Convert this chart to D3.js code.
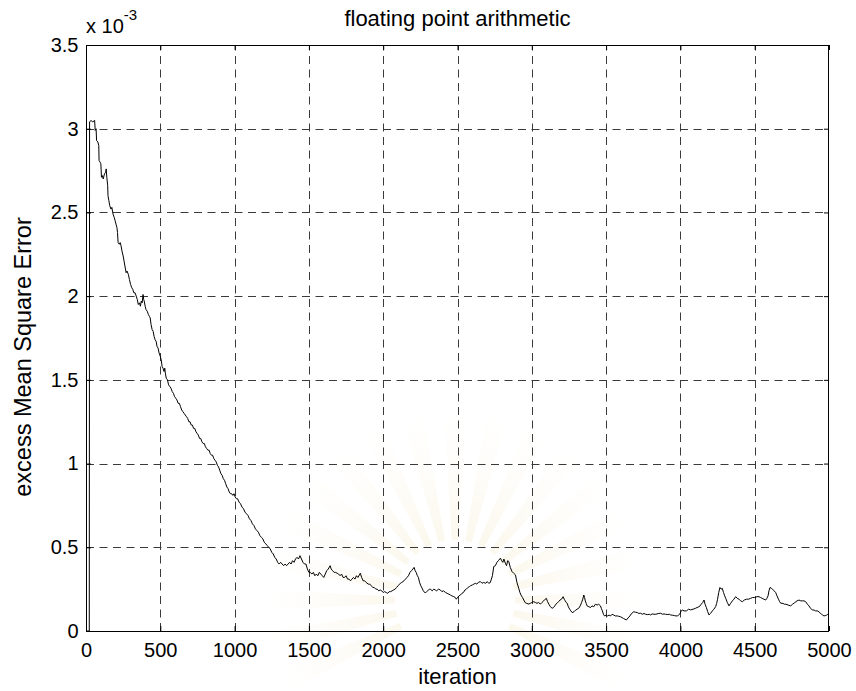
<!DOCTYPE html>
<html>
<head>
<meta charset="utf-8">
<script src="https://cdn.jsdelivr.net/npm/d3@7"></script>
<style>
  html, body { margin: 0; padding: 0; background: #fff; }
  svg { display: block; }
  text { font-family: "Liberation Sans", Arial, Helvetica, sans-serif; fill: #000; }
</style>
</head>
<body>
<svg id="chart" width="856" height="691"></svg>
<script>
// Excess MSE (in units of 1e-3) against iteration number
const iterations = [
  0, 22, 24, 34, 45, 58, 62, 68, 71, 80, 86, 88, 95, 100, 104, 110, 116, 124, 132, 136,
  140, 146, 148, 154, 160, 168, 174, 182, 190, 196, 202, 208, 212, 216, 224, 230, 236, 242, 250, 256,
  262, 270, 276, 285, 292, 300, 308, 315, 322, 330, 338, 345, 352, 360, 366, 372, 378, 384, 388, 392,
  398, 404, 412, 420, 426, 432, 438, 445, 452, 458, 465, 472, 478, 485, 492, 500,
  506, 512, 518, 525, 530, 534, 540, 548, 556, 564, 572, 580, 588, 596, 604, 612, 620, 628, 636, 644,
  652, 660, 668, 676, 684, 692, 700, 708, 716, 724, 732, 740, 748, 756, 764, 772, 780, 788, 796, 804,
  812, 820, 828, 836, 844, 852, 860, 868, 876, 884, 892, 900, 908, 916, 924, 932, 940, 948, 956, 964,
  972, 980, 988, 996, 1004,
  1012, 1020, 1030, 1040, 1050, 1060, 1070, 1080, 1090, 1100, 1110, 1120, 1130, 1140, 1150, 1160, 1170, 1180, 1190, 1200,
  1210, 1220, 1230, 1240, 1250, 1260, 1270, 1280, 1290, 1300, 1310, 1320, 1330, 1340, 1350, 1360, 1370, 1380, 1390, 1400,
  1410, 1420, 1430, 1440, 1450, 1460, 1470, 1480, 1490, 1500,
  1510, 1520, 1530, 1540, 1550, 1560, 1570, 1580, 1590, 1600, 1610, 1620, 1630, 1643, 1650, 1660, 1670, 1680, 1690, 1700,
  1710, 1720, 1730, 1740, 1750, 1760, 1770, 1780, 1790, 1800, 1810, 1820, 1830, 1846, 1855, 1865, 1875, 1885, 1900, 1910,
  1920, 1930, 1940, 1950, 1960, 1970, 1980, 1990, 2000,
  2010, 2020, 2030, 2040, 2050, 2060, 2070, 2080, 2090, 2100, 2115, 2125, 2140, 2150, 2160, 2170, 2180, 2190, 2200, 2208,
  2215, 2222, 2230, 2237, 2245, 2253, 2261, 2270, 2283, 2292, 2300, 2310, 2317, 2330, 2340, 2350, 2360, 2372, 2385, 2395,
  2405, 2420, 2430, 2442, 2452, 2462, 2475, 2485, 2492, 2500,
  2510, 2520, 2530, 2540, 2550, 2560, 2570, 2580, 2587, 2600, 2610, 2620, 2630, 2640, 2654, 2665, 2675, 2690, 2700, 2710,
  2721, 2728, 2735, 2744, 2755, 2765, 2775, 2789, 2797, 2805, 2812, 2822, 2830, 2838, 2845, 2855, 2867, 2878, 2890, 2900,
  2912, 2920, 2930, 2938, 2946, 2955, 2965, 2980, 2990, 3000,
  3013, 3025, 3035, 3045, 3058, 3068, 3080, 3090, 3098, 3106, 3115, 3125, 3137, 3146, 3155, 3162, 3170, 3180, 3190, 3200,
  3211, 3218, 3225, 3232, 3238, 3246, 3255, 3263, 3272, 3284, 3295, 3305, 3316, 3326, 3335, 3343, 3350, 3355, 3360, 3366,
  3372, 3384, 3395, 3405, 3417, 3428, 3440, 3450, 3462, 3468, 3475, 3482, 3489, 3500,
  3510, 3520, 3530, 3540, 3552, 3562, 3575, 3585, 3597, 3607, 3617, 3627, 3637, 3648, 3660, 3672, 3686, 3698, 3710, 3720,
  3732, 3745, 3755, 3765, 3780, 3790, 3799, 3810, 3822, 3835, 3850, 3867, 3880, 3890, 3900, 3915, 3925, 3934, 3948, 3960,
  3970, 3979, 3988, 3995, 4005,
  4013, 4025, 4040, 4055, 4069, 4085, 4100, 4112, 4125, 4132, 4140, 4150, 4159, 4166, 4175, 4184, 4192, 4203, 4215, 4225,
  4237, 4244, 4250, 4258, 4266, 4274, 4282, 4290, 4298, 4305, 4316, 4327, 4338, 4350, 4360, 4372, 4383, 4395, 4405, 4417,
  4430, 4445, 4458, 4473, 4486, 4500, 4515, 4529, 4540, 4550, 4562, 4574, 4582, 4590, 4596, 4603, 4612, 4620, 4630, 4641,
  4650, 4660, 4668, 4675, 4690, 4700, 4710, 4725, 4742, 4755, 4770, 4785, 4798, 4810, 4820, 4832, 4843, 4855, 4865, 4876,
  4888, 4900, 4910, 4922, 4933, 4942, 4950, 4958, 4966, 4975, 4985, 4992, 5000
];
const mse = [
  0.00, 0.00, 3.04, 3.05, 3.04, 3.05, 2.99, 3.00, 2.93, 2.92, 2.90, 2.81, 2.80, 2.79, 2.71, 2.72, 2.70, 2.73, 2.74, 2.76,
  2.71, 2.66, 2.60, 2.57, 2.54, 2.52, 2.53, 2.49, 2.47, 2.45, 2.43, 2.41, 2.38, 2.32, 2.31, 2.32, 2.30, 2.27, 2.24, 2.21,
  2.18, 2.14, 2.15, 2.13, 2.10, 2.07, 2.05, 2.04, 2.02, 2.02, 2.00, 1.98, 1.95, 1.96, 1.94, 1.97, 1.96, 2.01, 1.98, 1.97,
  1.94, 1.92, 1.91, 1.89, 1.88, 1.87, 1.83, 1.80, 1.79, 1.76, 1.74, 1.73, 1.70, 1.69, 1.66, 1.64,
  1.62, 1.58, 1.57, 1.55, 1.57, 1.54, 1.51, 1.50, 1.47, 1.46, 1.45, 1.43, 1.42, 1.40, 1.39, 1.38, 1.36, 1.36, 1.34, 1.32,
  1.31, 1.30, 1.29, 1.28, 1.27, 1.25, 1.25, 1.23, 1.23, 1.21, 1.21, 1.19, 1.18, 1.17, 1.15, 1.15, 1.13, 1.12, 1.12, 1.10,
  1.09, 1.08, 1.08, 1.06, 1.05, 1.05, 1.03, 1.02, 1.01, 0.99, 0.98, 0.96, 0.94, 0.93, 0.91, 0.90, 0.88, 0.86, 0.85, 0.83,
  0.82, 0.82, 0.81, 0.82, 0.80,
  0.79, 0.79, 0.77, 0.76, 0.74, 0.73, 0.71, 0.70, 0.69, 0.67, 0.66, 0.64, 0.63, 0.61, 0.60, 0.59, 0.57, 0.56, 0.55, 0.53,
  0.52, 0.51, 0.50, 0.49, 0.47, 0.46, 0.44, 0.43, 0.41, 0.40, 0.41, 0.40, 0.39, 0.40, 0.39, 0.40, 0.41, 0.40, 0.42, 0.41,
  0.43, 0.44, 0.43, 0.45, 0.43, 0.41, 0.40, 0.40, 0.37, 0.35,
  0.35, 0.34, 0.35, 0.33, 0.34, 0.33, 0.35, 0.34, 0.33, 0.32, 0.34, 0.36, 0.37, 0.39, 0.37, 0.36, 0.35, 0.35, 0.345, 0.34,
  0.33, 0.34, 0.32, 0.32, 0.33, 0.31, 0.31, 0.30, 0.31, 0.32, 0.31, 0.33, 0.32, 0.345, 0.32, 0.30, 0.30, 0.29, 0.28, 0.28,
  0.27, 0.26, 0.26, 0.25, 0.25, 0.24, 0.245, 0.24, 0.23,
  0.235, 0.23, 0.225, 0.235, 0.235, 0.24, 0.245, 0.25, 0.26, 0.27, 0.285, 0.29, 0.30, 0.31, 0.32, 0.33, 0.35, 0.36, 0.37, 0.38,
  0.36, 0.35, 0.33, 0.32, 0.29, 0.27, 0.257, 0.24, 0.227, 0.235, 0.24, 0.25, 0.25, 0.24, 0.25, 0.245, 0.24, 0.25, 0.245, 0.235,
  0.24, 0.23, 0.225, 0.22, 0.215, 0.21, 0.205, 0.20, 0.19, 0.20,
  0.21, 0.215, 0.225, 0.23, 0.245, 0.25, 0.26, 0.265, 0.27, 0.275, 0.28, 0.285, 0.28, 0.29, 0.295, 0.285, 0.29, 0.285, 0.295, 0.285,
  0.29, 0.31, 0.33, 0.385, 0.39, 0.41, 0.42, 0.435, 0.42, 0.41, 0.43, 0.405, 0.39, 0.42, 0.415, 0.38, 0.355, 0.345, 0.335, 0.29,
  0.255, 0.23, 0.21, 0.20, 0.185, 0.17, 0.165, 0.161, 0.165, 0.17,
  0.175, 0.17, 0.165, 0.17, 0.161, 0.17, 0.18, 0.19, 0.195, 0.175, 0.16, 0.145, 0.136, 0.14, 0.15, 0.16, 0.166, 0.175, 0.185, 0.19,
  0.205, 0.19, 0.18, 0.17, 0.166, 0.145, 0.13, 0.12, 0.11, 0.115, 0.125, 0.13, 0.136, 0.15, 0.17, 0.19, 0.215, 0.20, 0.18, 0.165,
  0.15, 0.145, 0.14, 0.15, 0.145, 0.16, 0.155, 0.16, 0.15, 0.135, 0.12, 0.10, 0.09, 0.095,
  0.09, 0.095, 0.09, 0.10, 0.095, 0.09, 0.09, 0.088, 0.085, 0.08, 0.075, 0.07, 0.066, 0.078, 0.09, 0.105, 0.115, 0.112, 0.11, 0.105,
  0.106, 0.10, 0.105, 0.10, 0.098, 0.10, 0.096, 0.102, 0.10, 0.10, 0.104, 0.106, 0.10, 0.102, 0.10, 0.098, 0.10, 0.096, 0.094, 0.092,
  0.09, 0.09, 0.095, 0.10, 0.118,
  0.126, 0.12, 0.12, 0.13, 0.126, 0.13, 0.135, 0.14, 0.145, 0.15, 0.16, 0.17, 0.185, 0.16, 0.14, 0.115, 0.096, 0.105, 0.12, 0.13,
  0.145, 0.165, 0.19, 0.23, 0.26, 0.25, 0.255, 0.23, 0.21, 0.195, 0.17, 0.15, 0.165, 0.18, 0.19, 0.205, 0.195, 0.19, 0.18, 0.175,
  0.185, 0.19, 0.19, 0.195, 0.20, 0.20, 0.205, 0.205, 0.20, 0.195, 0.19, 0.185, 0.195, 0.21, 0.24, 0.26, 0.255, 0.25, 0.24, 0.23,
  0.21, 0.19, 0.175, 0.166, 0.165, 0.16, 0.16, 0.155, 0.15, 0.16, 0.17, 0.18, 0.185, 0.18, 0.18, 0.18, 0.175, 0.16, 0.15, 0.135,
  0.126, 0.125, 0.12, 0.12, 0.115, 0.105, 0.10, 0.095, 0.09, 0.092, 0.095, 0.10, 0.10
];
const xTicks = [0, 500, 1000, 1500, 2000, 2500, 3000, 3500, 4000, 4500, 5000];
const xTickLabels = ["0", "500", "1000", "1500", "2000", "2500", "3000", "3500", "4000", "4500", "5000"];
const yTicks = [0, 0.5, 1, 1.5, 2, 2.5, 3, 3.5];
const yTickLabels = ["0", "0.5", "1", "1.5", "2", "2.5", "3", "3.5"];
const titleText = "floating point arithmetic";
const xLabelText = "iteration";
const yLabelText = "excess Mean Square Error";
const scaleBase = "x 10";
const scaleExp = "-3";

const svg = d3.select("#chart");
const plot = { left: 86, right: 829, top: 45, bottom: 631 };
const x = d3.scaleLinear().domain([0, 5000]).range([plot.left, plot.right]);
const y = d3.scaleLinear().domain([0, 3.5]).range([plot.bottom, plot.top]);

const tickFont = 20, titleFont = 22, yLabelFont = 23.5;

// faint sunburst emblem in the page background (drawn around its own centre)
const defs = svg.append("defs");
const rg = defs.append("radialGradient").attr("id", "rayFade")
  .attr("gradientUnits", "userSpaceOnUse").attr("cx", 0).attr("cy", 0).attr("r", 190);
rg.append("stop").attr("offset", "0.3").attr("stop-color", "#f2e6c2").attr("stop-opacity", 0.3);
rg.append("stop").attr("offset", "1").attr("stop-color", "#f7efd6").attr("stop-opacity", 0);
const rayAngles = d3.range(19).map(i => (i - 9) * (Math.PI / 14));
const rayArc = d3.arc().innerRadius(60).outerRadius(190);
svg.append("g").attr("transform", "translate(455,600)")
  .selectAll("path").data(rayAngles).join("path")
  .attr("d", a => rayArc({ startAngle: a - 0.055, endAngle: a + 0.055 }))
  .attr("fill", "url(#rayFade)");

// dashed grid
const grid = svg.append("g").attr("stroke", "#3a3a3a").attr("stroke-width", 1)
  .attr("stroke-dasharray", "8,5.5").attr("fill", "none");
grid.selectAll("line.gx").data(xTicks.slice(1, -1)).join("line")
  .attr("x1", d => Math.round(x(d)) + 0.5).attr("x2", d => Math.round(x(d)) + 0.5)
  .attr("y1", plot.bottom).attr("y2", plot.top);
grid.selectAll("line.gy").data(yTicks.slice(1, -1)).join("line")
  .attr("y1", d => Math.round(y(d)) + 0.5).attr("y2", d => Math.round(y(d)) + 0.5)
  .attr("x1", plot.left).attr("x2", plot.right);

// data trace
const pts = iterations.map((it, i) => [it, mse[i]]);
svg.append("path").datum(pts)
  .attr("fill", "none").attr("stroke", "#000").attr("stroke-width", 1)
  .attr("d", d3.line().x(d => x(d[0])).y(d => y(d[1])));

// axes with inward ticks on all four sides
const tick = 5;
const gB = svg.append("g").attr("transform", `translate(0,${plot.bottom})`)
  .call(d3.axisBottom(x).tickValues(xTicks).tickFormat((d, i) => xTickLabels[i])
    .tickSizeInner(-tick).tickSizeOuter(0).tickPadding(12));
const gL = svg.append("g").attr("transform", `translate(${plot.left},0)`)
  .call(d3.axisLeft(y).tickValues(yTicks).tickFormat((d, i) => yTickLabels[i])
    .tickSizeInner(-tick).tickSizeOuter(0).tickPadding(7.5));
const gT = svg.append("g").attr("transform", `translate(0,${plot.top})`)
  .call(d3.axisTop(x).tickValues(xTicks).tickSizeInner(-tick).tickSizeOuter(0).tickFormat(""));
const gR = svg.append("g").attr("transform", `translate(${plot.right},0)`)
  .call(d3.axisRight(y).tickValues(yTicks).tickSizeInner(-tick).tickSizeOuter(0).tickFormat(""));

[gB, gL, gT, gR].forEach(g => {
  g.select(".domain").remove();
  g.selectAll(".tick line").attr("stroke", "#000");
  g.selectAll("text").attr("font-size", tickFont).attr("font-family", null).attr("fill", "#000");
});

// box
svg.append("rect")
  .attr("x", plot.left + 0.5).attr("y", plot.top + 0.5)
  .attr("width", plot.right - plot.left - 1).attr("height", plot.bottom - plot.top)
  .attr("fill", "none").attr("stroke", "#000").attr("stroke-width", 1);

// exponent annotation above the y axis
const ex = svg.append("text").attr("x", plot.left).attr("y", 33).attr("font-size", tickFont);
ex.append("tspan").text(scaleBase);
ex.append("tspan").attr("font-size", 15).attr("dy", -13).text(scaleExp);

// title and axis labels
const cx = (plot.left + plot.right) / 2;
svg.append("text").attr("x", cx).attr("y", 26)
  .attr("text-anchor", "middle").attr("font-size", titleFont).text(titleText);
svg.append("text").attr("x", cx).attr("y", 684)
  .attr("text-anchor", "middle").attr("font-size", titleFont).text(xLabelText);
svg.append("text").attr("transform", `translate(31,357) rotate(-90)`)
  .attr("text-anchor", "middle").attr("font-size", yLabelFont).text(yLabelText);
</script>
</body>
</html>
